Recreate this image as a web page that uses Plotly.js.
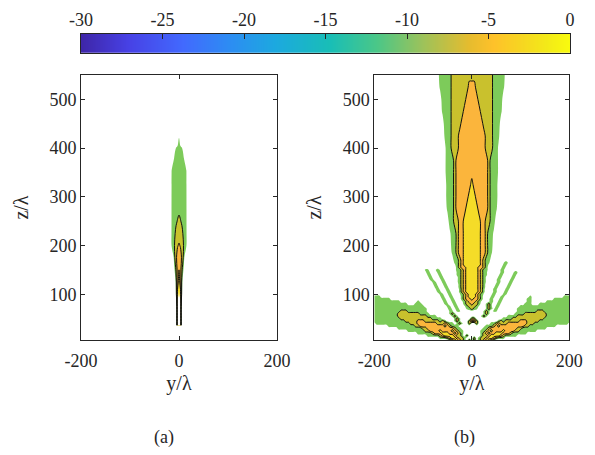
<!DOCTYPE html>
<html><head><meta charset="utf-8">
<script src="https://cdn.plot.ly/plotly-3.0.1.min.js"></script>
<style>html,body{margin:0;padding:0;background:#fff}#chart{width:595px;height:455px}</style>
</head><body><div id="chart"></div>
<script>
// ---------- colour bar ----------
const cbarTicks = [-30, -25, -20, -15, -10, -5, 0];
const cbarLabels = ['-30', '-25', '-20', '-15', '-10', '-5', '0'];
const xTicks = [-200, 0, 200];
const xLabels = ['-200', '0', '200'];
const zTicks = [100, 200, 300, 400, 500];

// ---------- panel (a): field in dB, columns = y/λ, rows = z/λ ----------
const yA = [-20, -15, -10, -6, -3, 0, 3, 6, 10, 15, 20];
const zA = [36, 50, 75, 100, 125, 150, 175, 200, 225, 250, 275, 300, 325, 350, 375, 400, 425];
const fieldA = [
  [-20,-20,-20,-20,2,3,2,-20,-20,-20,-20],
  [-20,-20,-20,-20,2,3,2,-20,-20,-20,-20],
  [-20,-20,-20,-20,2,3,2,-20,-20,-20,-20],
  [-20,-20,-20,-11,-2,0.5,-2,-11,-20,-20,-20],
  [-20,-20,-20,-10,-4.5,-1.5,-4.5,-10,-20,-20,-20],
  [-20,-20,-13,-8.5,-5,-3,-5,-8.5,-13,-20,-20],
  [-20,-20,-10.5,-6.5,-5,-4.6,-5,-6.5,-10.5,-20,-20],
  [-20,-11.5,-9.4,-7.5,-6.2,-5.7,-6.2,-7.5,-9.4,-11.5,-20],
  [-20,-11.4,-9.6,-8.5,-7.6,-7.2,-7.6,-8.5,-9.6,-11.4,-20],
  [-20,-11.5,-10.2,-9.3,-8.9,-8.6,-8.9,-9.3,-10.2,-11.5,-20],
  [-20,-11.5,-10.6,-10,-9.6,-9.4,-9.6,-10,-10.6,-11.5,-20],
  [-20,-11.6,-10.8,-10.3,-10,-9.9,-10,-10.3,-10.8,-11.6,-20],
  [-20,-11.7,-11,-10.6,-10.4,-10.3,-10.4,-10.6,-11,-11.7,-20],
  [-20,-11.8,-11.2,-10.9,-10.7,-10.6,-10.7,-10.9,-11.2,-11.8,-20],
  [-20,-13,-11.8,-11.3,-11.1,-11,-11.1,-11.3,-11.8,-13,-20],
  [-20,-20,-13,-11.9,-11.8,-11.5,-11.8,-11.9,-13,-20,-20],
  [-20,-20,-20,-20,-13,-12.1,-13,-20,-20,-20,-20]
];

// ---------- panel (b): band codes ----------
// columns: y/λ = -200, -195, ..., 200 (81 cells); each token = [count]code
const bandDb = {'.': -13.5, h: -12.5, k: -11.5, g: -10.5, o: -7.5, r: -4.5, y: -1.5, w: 1.5};
const zB = [6,10,15,20,25,30,35,40,45,50,55,60,65,70,75,80,85,90,95,100,105,110,115,120,125,130,135,140,145,150,155,160,165,170,
            185,200,225,250,275,300,325,350,375,400,425,450,475,500,525,550];
const rowsB = [
  "31. g o r y r o g . o . o . g o r y r o g 31.",
  "27. 3g o r 2y r 2o g 3. o . g 2o r 2y r o 3g 27.",
  "22. 5g o r 4y r 2o g . o 5. g 2o r 4y r o 5g 22.",
  "18. 6g o 3r 3y 2r o r o g 7. g o r o 2r 3y 3r o 6g 18.",
  "14. 7g 2o 4r y 4r o r o 2g 7. 2g o r o 4r y 4r 2o 7g 14.",
  "10. 10g 2o 10r r o 2g 9. 2g o 10r r 2o 10g 10.",
  "6. 11g 2o 10r o r o 3g 11. 3g o r o 10r 2o 11g 6.",
  ". 14g 3o 8r 3o r o 2g . k o k 2. o 2. o 5. 2g o r 3o 8r 3o 14g .",
  "13g 5o 3r 6o g o g 3. k o k 3. o 2y o 8. g o g 6o 3r 5o 13g",
  "11g 13o 4g 5. k o k 4. 2o 11. 4g 13o 11g",
  "10g 12o 4g 6. k o k 9. k o k 8. 4g 12o 10g",
  "10g 9o 4g 8. k o k 11. k o k 10. 4g 9o 10g",
  "11g 3o 8g 9. 2k . 2k 9. k o k . 2k 8. 8g 3o 11g",
  "22g 8. h g 2h g h 2. k g o g k 3. k o k h g h 7. 22g",
  "21g 9. 2k . 2k 2. h g 3o g h 2. k o k . 2k 8. 21g",
  "14g 3. 3g 9. 2k . h g h 2. g 2o r 2o g 2. k o k . h g h 9. 3g 3. 13g",
  "11g 7. g 9. h g h . 2k 2. h g o 3r o g h 2. h g h . 2k 10. 2g 6. 10g",
  "7g 21. 2k . h g h 2. g o 2r y 2r o g 2. h g h . h g h 9. 2g 9. 7g",
  "3g 24. h g h . 2k 3. g o r 3y r o g 3. 2k 2. 2k 10. g 13. 3g",
  "27. 2k . h g h 2. h g o r 3y r o g h 2. h g h 2. 2k 26.",
  "26. 2k 2. 2k 3. k o r 5y r o k 3. 2k 2. h g h 25.",
  "25. h g h . h g h 3. k o r 5y r o k 3. 2k 3. 2k 25.",
  "25. 2k 2. 2k 4. g o r 5y r o g 3. h g h 2. h g h 24.",
  "24. h g h . h g h 4. g o r 5y r o g 4. 2k 3. 2k 24.",
  "24. 2k 2. 2k 4. h g o r 5y r o g h 3. h g h 2. h g h 23.",
  "23. 2k 2. h g h 4. h g o r 5y r o g h 3. h g h 3. 2k 23.",
  "22. h g h 2. 2k 5. h g o r 5y r o g h 4. 2k 3. h g h 22.",
  "22. 2k 2. h g h 5. k g o r 5y r o g k 4. h g h 3. 2k 22.",
  "21. h g h 2. 2k 6. k g o r 5y r o g k 5. 2k 3. h g h 21.",
  "21. 2k 2. h g h 6. 2g o r 5y r o 2g 5. 2k 27.",
  "34. g o 2r 5y 2r o g 5. h g h 26.",
  "33. h g o r 7y r o g h 5. 2k 26.",
  "33. k g o r 7y r o g k 5. h g h 25.",
  "33. 2g o r 7y r o 2g 33.",
  "32. k g o 2r 7y 2r o g k 32.",
  "32. 2g o 2r 7y 2r o 2g 32.",
  "31. h 2g o 2r 7y 2r o 2g h 31.",
  "31. 2g 2o 2r 7y 2r 2o 2g 31.",
  "30. k 2g o 4r 5y 4r o 2g k 30.",
  "30. 3g o 5r 3y 5r o 3g 30.",
  "30. 3g o 6r y 6r o 3g 30.",
  "29. h 3g o 13r o 3g h 29.",
  "29. h 3g o 13r o 3g h 29.",
  "29. h 2g 3o 11r 3o 2g h 29.",
  "29. k 2g 3o 11r 3o 2g k 29.",
  "29. 3g 4o 9r 4o 3g 29.",
  "28. k 3g 5o 7r 5o 3g k 28.",
  "28. 4g 6o 5r 6o 4g 28.",
  "27. k 4g 7o 3r 7o 4g k 27.",
  "27. 5g 17o 5g 27."
];
const nColsB = 81;
function decodeRow(s) {
  const out = [];
  s.trim().split(/\s+/).forEach(t => {
    const m = t.match(/^(\d*)([.hkgoryw])$/);
    if (!m) return;
    const n = m[1] ? parseInt(m[1], 10) : 1;
    for (let k = 0; k < n; k++) out.push(bandDb[m[2]]);
  });
  while (out.length < nColsB) out.push(bandDb['.']);
  return out.slice(0, nColsB);
}
const fieldB = rowsB.map(decodeRow);

// ---------- styling ----------
const C_G = 'rgb(125,203,90)', C_O = 'rgb(201,193,45)', C_R = 'rgb(251,181,60)', C_Y = 'rgb(245,220,40)';
const bandScale = [
  [0, 'rgba(255,255,255,0)'], [0.1, 'rgba(255,255,255,0)'],
  [0.1, C_G], [0.3, C_G], [0.3, C_O], [0.5, C_O],
  [0.5, C_R], [0.7, C_R], [0.7, C_Y], [0.9, C_Y],
  [0.9, '#ffffff'], [1, '#ffffff']
];
const parula = [
  [0, '#3e26a8'], [0.0952, '#4741e5'], [0.2063, '#4269fe'], [0.3016, '#2d8cf3'],
  [0.3968, '#1ca9df'], [0.5079, '#19beb6'], [0.6032, '#4ac788'], [0.6984, '#9dc25a'],
  [0.7937, '#e6bc2e'], [0.8413, '#fec12a'], [0.9048, '#f6d820'], [0.9524, '#f3ea18'], [1, '#f9fb0e']
];
const FONT = 'Liberation Serif';
const TXT = '#262626';

function fillTrace(x, y, z, xa, ya, extra) {
  return Object.assign({
    type: 'contour', x: x, y: y, z: z, xaxis: xa, yaxis: ya,
    autocontour: false, contours: {start: -12, end: 0, size: 3, coloring: 'fill'},
    colorscale: bandScale, zmin: -13.5, zmax: 1.5, zauto: false,
    line: {width: 0, smoothing: 1}, showscale: false, hoverinfo: 'skip'
  }, extra || {});
}
function lineTrace(x, y, z, xa, ya, extra) {
  return Object.assign({
    type: 'contour', x: x, y: y, z: z, xaxis: xa, yaxis: ya,
    autocontour: false, contours: {start: -9, end: -3, size: 3, coloring: 'none'},
    line: {width: 1, color: '#111111', smoothing: 1}, showscale: false, hoverinfo: 'skip'
  }, extra || {});
}

const traces = [
  fillTrace(yA, zA, fieldA, 'x', 'y'),
  lineTrace(yA, zA, fieldA, 'x', 'y'),
  fillTrace(undefined, zB, fieldB, 'x2', 'y2', {x0: -200, dx: 5}),
  lineTrace(undefined, zB, fieldB, 'x2', 'y2', {x0: -200, dx: 5}),
  {
    type: 'heatmap', x: cbarTicks, y: [0, 1], z: [cbarTicks, cbarTicks],
    colorscale: parula, zmin: -30, zmax: 0, zsmooth: 'best', showscale: false,
    xaxis: 'x3', yaxis: 'y3', hoverinfo: 'skip'
  }
];
traces.forEach(t => { if (t.x === undefined) delete t.x; });

function xAx(domain, anchor) {
  return {
    domain: domain, anchor: anchor, range: [-200, 200], tickvals: xTicks, ticktext: xLabels,
    ticks: 'inside', ticklen: 4, tickwidth: 1, tickcolor: TXT, mirror: 'ticks',
    showline: true, linecolor: TXT, linewidth: 1, showgrid: false, zeroline: false,
    ticklabelstandoff: 4,
    tickfont: {family: FONT, size: 18, color: TXT},
    title: {text: 'y/λ', font: {family: FONT, size: 20, color: TXT}, standoff: 6}
  };
}
function yAx(domain, anchor) {
  return {
    domain: domain, anchor: anchor, range: [6, 550], tickvals: zTicks,
    ticks: 'inside', ticklen: 4, tickwidth: 1, tickcolor: TXT, mirror: 'ticks',
    showline: true, linecolor: TXT, linewidth: 1, showgrid: false, zeroline: false,
    tickfont: {family: FONT, size: 18, color: TXT},
    title: {text: 'z/λ', font: {family: FONT, size: 20, color: TXT}, standoff: 15}
  };
}
const yDom = [1 - 340 / 455, 1 - 75 / 455];
const layout = {
  width: 595, height: 455, margin: {l: 0, r: 0, t: 0, b: 0},
  paper_bgcolor: '#ffffff', plot_bgcolor: 'rgba(0,0,0,0)', showlegend: false,
  font: {family: FONT, color: TXT},
  xaxis: xAx([81 / 595, 277 / 595], 'y'),
  yaxis: yAx(yDom, 'x'),
  xaxis2: xAx([374.3 / 595, 569.3 / 595], 'y2'),
  yaxis2: yAx(yDom, 'x2'),
  xaxis3: {
    domain: [81 / 595, 570 / 595], anchor: 'y3', range: [-30, 0], tickvals: cbarTicks, ticktext: cbarLabels,
    side: 'top', ticks: 'inside', ticklen: 5, tickwidth: 1, tickcolor: TXT,
    showline: true, mirror: true, linecolor: TXT, linewidth: 1, showgrid: false, zeroline: false,
    tickfont: {family: FONT, size: 18, color: TXT}
  },
  yaxis3: {
    domain: [1 - 52.7 / 455, 1 - 34 / 455], anchor: 'x3', range: [0, 1],
    showticklabels: false, ticks: '', showline: true, mirror: true, linecolor: TXT,
    linewidth: 1, showgrid: false, zeroline: false
  },
  annotations: [
    {text: '(a)', x: 164 / 595, y: 1 - 437 / 455, xref: 'paper', yref: 'paper', showarrow: false,
     xanchor: 'center', yanchor: 'middle', font: {family: FONT, size: 18, color: TXT}},
    {text: '(b)', x: 464 / 595, y: 1 - 437 / 455, xref: 'paper', yref: 'paper', showarrow: false,
     xanchor: 'center', yanchor: 'middle', font: {family: FONT, size: 18, color: TXT}}
  ]
};
Plotly.newPlot('chart', traces, layout, {staticPlot: true, displayModeBar: false});
</script>
</body></html>
